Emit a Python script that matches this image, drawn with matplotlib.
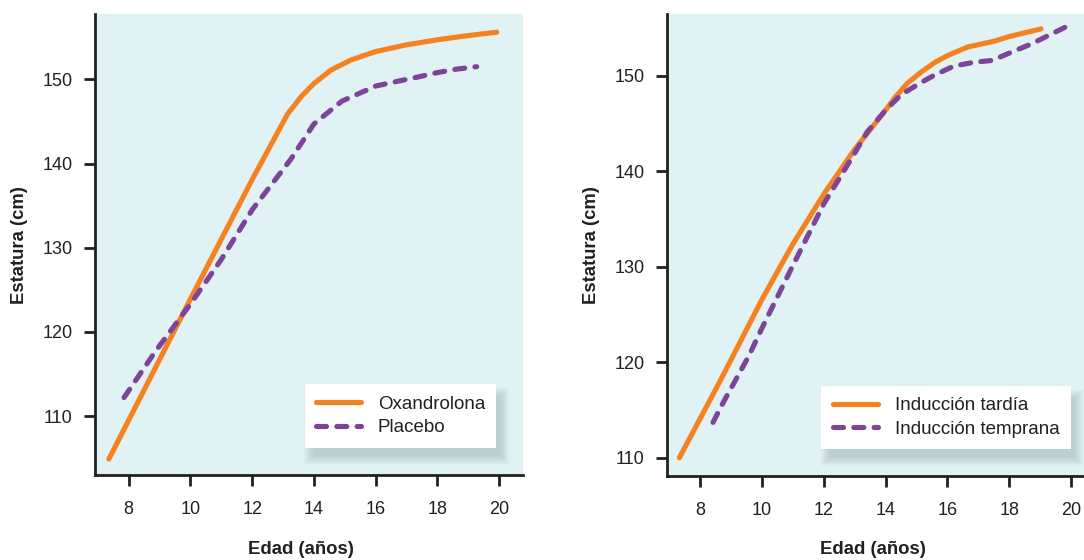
import matplotlib

matplotlib.use("Agg")
import matplotlib.pyplot as plt
from matplotlib.patches import Rectangle
from matplotlib.transforms import IdentityTransform

# ---------------------------------------------------------------------------
# Data (edad en años, estatura en cm)
# ---------------------------------------------------------------------------
oxa_age = [7.36, 8.5, 10.0, 11.0, 12.0, 13.15, 13.6, 14.0, 14.55, 15.2, 16.0, 17.0, 18.0, 19.0, 19.92]
oxa_height = [104.9, 113.1, 123.9, 131.0, 138.1, 145.9, 148.0, 149.5, 151.1, 152.3, 153.3, 154.1, 154.7, 155.2, 155.6]

pla_age = [7.85, 8.85, 10.0, 11.0, 12.0, 13.25, 14.0, 14.9, 16.0, 16.75, 17.4, 18.0, 18.6, 19.27]
pla_height = [112.2, 117.6, 123.3, 128.6, 134.5, 140.5, 144.7, 147.4, 149.2, 149.8, 150.3, 150.8, 151.2, 151.5]

tardia_age = [7.32, 8.65, 10.0, 11.0, 12.0, 13.0, 14.0, 14.3, 14.7, 15.2, 15.6, 16.0, 16.65, 17.5, 18.0, 19.03]
tardia_height = [110.0, 118.1, 126.6, 132.4, 137.6, 142.3, 146.4, 147.7, 149.2, 150.5, 151.4, 152.1, 153.0, 153.6, 154.1, 154.9]

temprana_age = [8.41, 8.76, 9.56, 10.0, 10.9, 12.0, 13.0, 13.4, 14.0, 14.5, 15.1, 15.55, 16.2, 16.85,
                17.45, 18.1, 18.7, 19.33, 19.95]
temprana_height = [113.7, 115.9, 120.6, 123.6, 129.5, 136.6, 141.9, 144.1, 146.4, 148.0, 149.2, 150.0, 151.0,
                   151.4, 151.6, 152.5, 153.3, 154.3, 155.3]

x_ticks = [8, 10, 12, 14, 16, 18, 20]
y_ticks = [110, 120, 130, 140, 150]

ORANGE = "#F58220"
PURPLE = "#7D4599"
BG = "#E0F2F4"
INK = "#231F20"
FONT = "Liberation Sans"

W, H = 1084, 560
plt.rcParams["font.family"] = [FONT, "DejaVu Sans"]

fig = plt.figure(figsize=(W / 100, H / 100), dpi=100)


def px_axes(x0, y_top, x1, y_bot):
    return fig.add_axes([x0 / W, 1 - y_bot / H, (x1 - x0) / W, (y_bot - y_top) / H])


ax_l = px_axes(95, 14, 523.3, 475)
ax_r = px_axes(666.7, 14, 1095, 475.7)


def style(ax, ylim):
    ax.set_facecolor(BG)
    ax.set_xlim(6.91, 20.78)
    ax.set_ylim(*ylim)
    ax.set_xticks(x_ticks)
    ax.set_yticks(y_ticks)
    for s in ("top", "right"):
        ax.spines[s].set_visible(False)
    for s in ("left", "bottom"):
        ax.spines[s].set_linewidth(2.0)
        ax.spines[s].set_color(INK)
    ax.tick_params(axis="both", length=8, width=2, color=INK, labelcolor=INK, labelsize=13)
    ax.tick_params(axis="x", pad=11)
    ax.tick_params(axis="y", pad=8)


style(ax_l, (103.0, 157.76))
style(ax_r, (108.12, 156.46))

dash = (1.95, 2.0)

ax_l.plot(oxa_age, oxa_height, color=ORANGE, lw=3.7, solid_capstyle="round",
          solid_joinstyle="round", label="Oxandrolona", zorder=3)
ax_l.plot(pla_age, pla_height, color=PURPLE, lw=3.7, dashes=dash, dash_capstyle="round",
          label="Placebo", zorder=3)

ax_r.plot(tardia_age, tardia_height, color=ORANGE, lw=3.7, solid_capstyle="round",
          solid_joinstyle="round", label="Inducción tardía", zorder=3)
ax_r.plot(temprana_age, temprana_height, color=PURPLE, lw=3.7, dashes=dash, dash_capstyle="round",
          label="Inducción temprana", zorder=3)


def legend(ax, x0, y_top, width, height):
    # anchor box given in pixels relative to the figure
    bb = ax.get_position()
    ax_x0, ax_y0 = bb.x0 * W, bb.y0 * H
    bx = (x0 - ax_x0) / (bb.width * W)
    by = ((H - y_top - height) - ax_y0) / (bb.height * H)
    leg = ax.legend(loc="center", bbox_to_anchor=(bx, by, width / (bb.width * W), height / (bb.height * H)),
                    bbox_transform=ax.transAxes, frameon=True, fancybox=False, framealpha=1,
                    edgecolor="none", facecolor="white", fontsize=13.5, handlelength=2.4,
                    handletextpad=0.9, labelspacing=0.35, borderpad=0.6, borderaxespad=0)
    for t in leg.get_texts():
        t.set_color(INK)
    # soft drop shadow
    fig.canvas.draw()
    ext = leg.get_frame().get_window_extent()
    for i in range(7):
        r = i * 1.4
        ax.add_patch(Rectangle((ext.x0 + 8 - r, ext.y0 - 8 - r), ext.width + 2 * r - 4,
                               ext.height + 2 * r - 4, transform=IdentityTransform(),
                               facecolor="#7f9597", edgecolor="none", alpha=0.06,
                               zorder=4, clip_on=False))
    return leg


legend(ax_l, 304, 379.3, 193, 73.4)
legend(ax_r, 820, 381, 252, 73.3)

lab = dict(fontsize=13.3, fontweight="bold", color=INK, ha="center", va="center")
fig.text(20 / W, 1 - 245 / H, "Estatura (cm)", rotation=90, **lab)
fig.text(592 / W, 1 - 245 / H, "Estatura (cm)", rotation=90, **lab)
fig.text(301 / W, 1 - 550 / H, "Edad (años)", **lab)
fig.text(873 / W, 1 - 550 / H, "Edad (años)", **lab)

fig.savefig("out.png", dpi=100, facecolor="white")
